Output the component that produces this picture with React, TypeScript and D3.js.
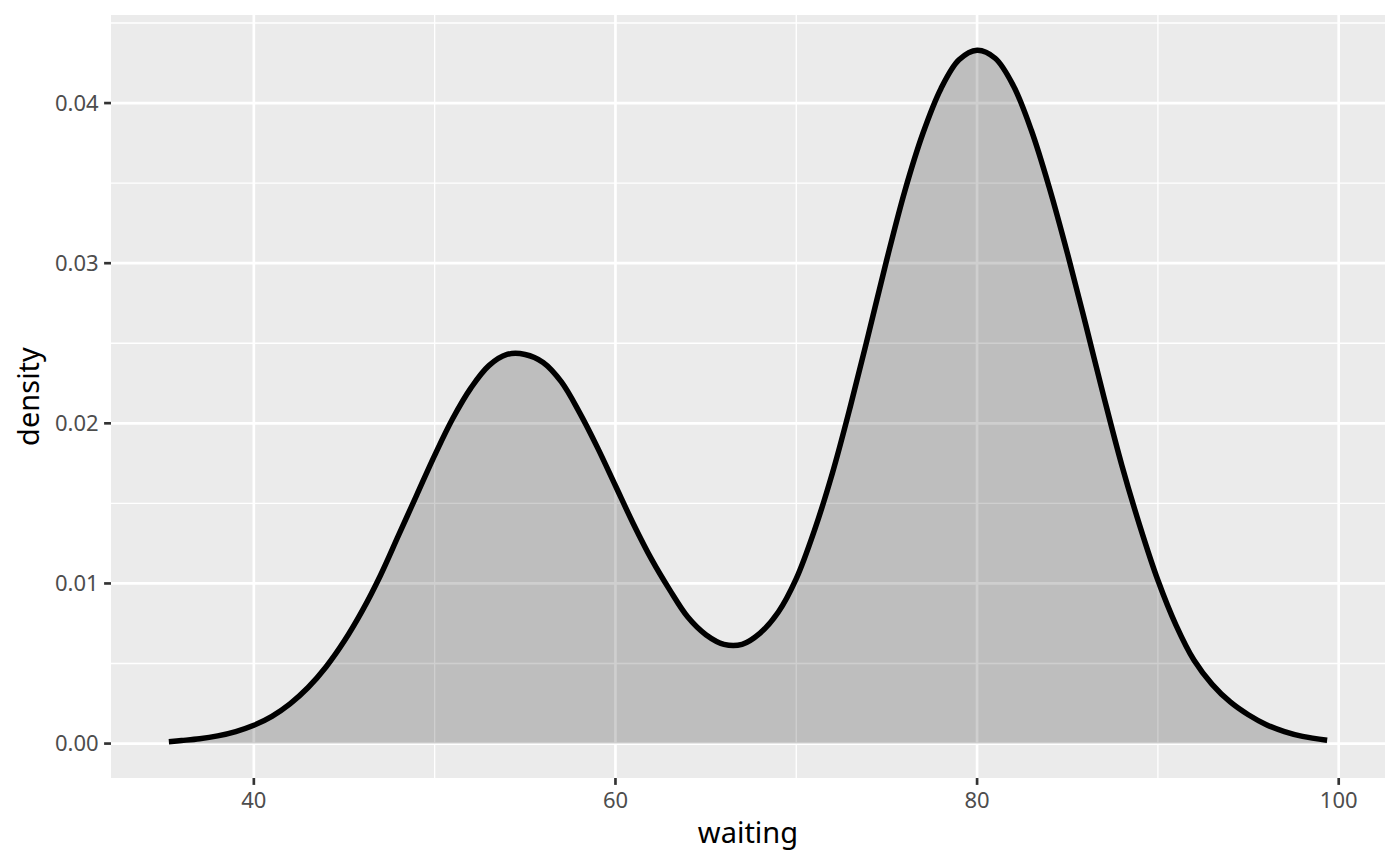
import React from "react";
import * as d3 from "d3";

const waiting = [35.3, 36, 37, 38, 39, 40, 41, 42, 43, 44, 45, 46, 47, 48, 49, 50, 51, 52, 53, 54, 55, 56, 57, 58, 59, 60, 61, 62, 63, 64, 65, 66, 67, 68, 69, 70, 71, 72, 73, 74, 75, 76, 77, 78, 79, 80, 81, 82, 83, 84, 85, 86, 87, 88, 89, 90, 91, 92, 93, 94, 95, 96, 97, 98, 99.36];
const density = [0.00012, 0.00019, 0.0003, 0.00048, 0.00075, 0.00114, 0.0017, 0.00248, 0.0035, 0.0048, 0.0064, 0.0083, 0.0105, 0.013, 0.0155, 0.018, 0.0203, 0.0222, 0.0236, 0.0243, 0.0243, 0.0238, 0.0226, 0.0207, 0.0185, 0.0161, 0.0137, 0.0115, 0.0096, 0.0079, 0.0068, 0.0062, 0.0062, 0.0069, 0.0082, 0.0103, 0.0133, 0.0169, 0.0211, 0.0256, 0.0302, 0.0345, 0.0381, 0.0409, 0.0427, 0.0433, 0.0428, 0.0411, 0.0383, 0.0347, 0.0306, 0.0262, 0.0217, 0.0174, 0.0136, 0.0102, 0.0074, 0.0052, 0.0037, 0.0026, 0.0018, 0.00118, 0.00075, 0.00045, 0.00021];

const xTicks = [40, 60, 80, 100];
const xMinor = [50, 70, 90];
const yTicks = [0, 0.01, 0.02, 0.03, 0.04];
const yMinor = [0.005, 0.015, 0.025, 0.035, 0.045];
const xLabel = "waiting";
const yLabel = "density";

const W = 1400;
const H = 866;
const L = 111, R = 1385, T = 15, B = 778;
const FONT = "'Noto Sans', 'Open Sans', sans-serif";

export default function App() {
  const x = d3.scaleLinear().domain([32.1, 102.56]).range([L, R]);
  const y = d3.scaleLinear().domain([-0.00215, 0.0455]).range([B, T]);
  const pts: [number, number][] = waiting.map((w, i) => [w, density[i]]);
  const area = d3
    .area<[number, number]>()
    .x((d) => x(d[0]))
    .y0(() => y(0))
    .y1((d) => y(d[1]))
    .curve(d3.curveCatmullRom);
  const line = d3
    .line<[number, number]>()
    .x((d) => x(d[0]))
    .y((d) => y(d[1]))
    .curve(d3.curveCatmullRom);

  return (
    <div style={{ position: "absolute", left: 0, top: 0 }}>
      <svg width={W} height={H} style={{ display: "block", background: "#fff" }}>
        <rect x={L} y={T} width={R - L} height={B - T} fill="#EBEBEB" />
        {xMinor.map((v) => (
          <line key={"xm" + v} x1={x(v)} x2={x(v)} y1={T} y2={B} stroke="#fff" strokeWidth={1.33} />
        ))}
        {yMinor.map((v) => (
          <line key={"ym" + v} x1={L} x2={R} y1={y(v)} y2={y(v)} stroke="#fff" strokeWidth={1.33} />
        ))}
        {xTicks.map((v) => (
          <line key={"xM" + v} x1={x(v)} x2={x(v)} y1={T} y2={B} stroke="#fff" strokeWidth={2.67} />
        ))}
        {yTicks.map((v) => (
          <line key={"yM" + v} x1={L} x2={R} y1={y(v)} y2={y(v)} stroke="#fff" strokeWidth={2.67} />
        ))}
        <path d={area(pts) || ""} fill="#000" fillOpacity={0.19} />
        <path d={line(pts) || ""} fill="none" stroke="#000" strokeWidth={5.5} strokeLinecap="butt" strokeLinejoin="round" />
        {yTicks.map((v) => (
          <g key={"yt" + v}>
            <line x1={L - 6.9} x2={L} y1={y(v)} y2={y(v)} stroke="#333" strokeWidth={2.67} />
            <text x={L - 12.4} y={y(v)} dy="0.36em" textAnchor="end" fontFamily={FONT} fontSize={22} fill="#4D4D4D">
              {d3.format(".2f")(v)}
            </text>
          </g>
        ))}
        {xTicks.map((v) => (
          <g key={"xt" + v}>
            <line x1={x(v)} x2={x(v)} y1={B} y2={B + 6.9} stroke="#333" strokeWidth={2.67} />
            <text x={x(v)} y={808} textAnchor="middle" fontFamily={FONT} fontSize={22} fill="#4D4D4D">
              {v}
            </text>
          </g>
        ))}
        <text x={(L + R) / 2} y={843} textAnchor="middle" fontFamily={FONT} fontSize={29} fill="#000">
          {xLabel}
        </text>
        <text
          transform={`translate(39, ${(T + B) / 2}) rotate(-90)`}
          textAnchor="middle"
          fontFamily={FONT}
          fontSize={29}
          fill="#000"
        >
          {yLabel}
        </text>
      </svg>
    </div>
  );
}
